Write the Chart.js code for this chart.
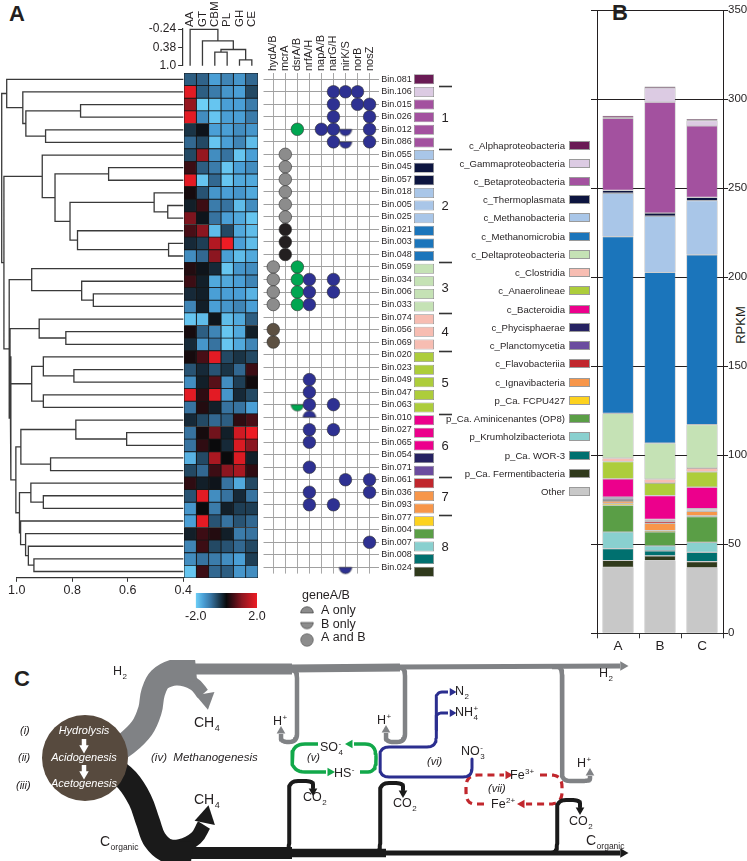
<!DOCTYPE html>
<html>
<head>
<meta charset="utf-8">
<title>Bins, genes and RPKM</title>
<script src="https://cdn.jsdelivr.net/npm/chart.js@4.4.1/dist/chart.umd.min.js"></script>
<style>
  html, body { margin: 0; padding: 0; background: #fff; }
  body { position: relative; width: 747px; height: 861px; overflow: hidden;
         font-family: 'Liberation Sans', Arial, Helvetica, sans-serif; color: #231f20; }
  canvas { position: absolute; }
  .tag { position: absolute; font-weight: bold; font-size: 22px; line-height: 22px; }
  .li { position: absolute; right: 157px; height: 12px; display: flex; align-items: center;
        font-size: 9.6px; white-space: nowrap; }
  .li i { display: block; width: 21px; height: 9px; margin-left: 4px; border: 1px solid #9a9a9a; box-sizing: border-box; }
  #rpkm { position: absolute; left: 740px; top: 325px; font-size: 13px;
          transform: translate(-50%, -50%) rotate(-90deg); }
</style>
</head>
<body>
<div class="tag" style="left:9px;top:3px">A</div>
<div class="tag" style="left:612px;top:2px">B</div>
<div class="tag" style="left:14px;top:668px">C</div>
<div id="rpkm">RPKM</div>
<script>
// ---------- data ----------
const binNames = ['Bin.081','Bin.106','Bin.015','Bin.026','Bin.012','Bin.086','Bin.055','Bin.045','Bin.057','Bin.018',
                  'Bin.005','Bin.025','Bin.021','Bin.003','Bin.048','Bin.059','Bin.034','Bin.006','Bin.033','Bin.074',
                  'Bin.056','Bin.069','Bin.020','Bin.023','Bin.049','Bin.047','Bin.063','Bin.010','Bin.027','Bin.065',
                  'Bin.054','Bin.071','Bin.061','Bin.036','Bin.093','Bin.077','Bin.004','Bin.007','Bin.008','Bin.024'];
// index into classNames for every bin
const binClass = [0,1,2,2,2,2,4,3,3,4,4,4,5,5,5,6,6,6,6,7,7,7,8,8,8,8,8,9,9,9,10,11,12,13,13,14,15,16,17,18];

const heatCols = ['AA','GT','CBM','PL','GH','CE'];
const heatAA  = [-0.8,1.9,1.1,1.9,-0.4,-0.9,-0.6,0.4,1.9,0.1,-0.2,0.9,0.5,-0.3,-1.3,0.2,0.4,-0.3,-1.2,-1.9,0.1,-0.3,0.1,-0.7,-1.3,1.9,-1.0,-0.3,-1.0,-1.0,-1.7,-0.6,0.3,-0.7,-1.4,-1.5,-0.2,-1.2,-1.3,-1.9];
const heatGT  = [-0.85,-0.8,-2.0,-1.3,-0.1,-0.6,1.1,-0.8,-1.9,-0.7,0.4,-0.1,1.0,-0.5,-0.9,-0.1,-0.2,-0.2,-0.2,-1.8,-0.8,-1.4,0.5,-0.3,-0.2,0.3,0.2,-0.6,0.1,0.3,-0.6,-0.9,-0.2,1.9,0.0,1.9,0.4,0.4,-1.0,0.4];
const heatCBM = [-1.5,-1.1,-1.9,-1.9,-1.5,-1.9,-1.3,-1.1,-0.9,-1.4,-1.1,-1.0,-1.8,1.4,1.0,-0.3,-1.6,-1.5,-1.5,-0.1,-1.2,-1.0,1.9,-0.7,0.6,1.9,-0.2,-0.9,0.8,0.0,1.3,0.4,-0.1,-1.3,-1.1,-0.7,0.2,-0.6,-1.1,-0.9];
const heatPL  = [-1.2,-1.4,-1.5,-1.5,-1.5,-1.5,-1.0,-1.9,-1.9,-1.5,-1.0,-1.5,-0.6,2.0,-1.5,-1.9,-1.6,-1.5,-1.4,-1.8,-1.9,-1.9,-0.6,-0.4,-1.3,-1.4,-1.0,-0.8,-0.2,-0.3,0.0,1.0,-1.0,-1.0,-0.2,-1.0,-0.2,-0.7,-1.3,-0.8];
const heatGH  = [-1.4,-1.5,-1.5,-1.5,-1.3,-1.2,-1.9,-1.5,-1.6,-1.4,-1.8,-1.6,-1.6,-1.5,-1.8,-1.4,-1.5,-1.5,-1.2,-1.6,-1.6,-1.6,-0.4,-0.9,-0.5,-0.3,-1.0,0.3,1.7,1.8,1.8,1.3,-1.6,-0.3,-0.5,-0.7,-1.1,-0.9,-1.5,-1.4];
const heatCE  = [-0.9,-0.6,-1.1,-1.1,-1.4,-1.8,-1.5,-1.3,-1.6,-1.6,-1.3,-1.9,-1.8,-1.8,-1.6,-1.3,-1.2,-1.7,-1.5,-0.8,-0.2,-1.2,-0.6,0.4,0.05,-0.6,-1.5,0.5,2.0,1.0,-0.2,0.3,-0.6,-1.0,-0.5,-0.9,-1.0,-0.6,-0.5,-1.3];
const heatRange = [-2, 2];

// dendrograms: [left, right, height], leaves are row / column indices
const rowTree = [
  [0, [1, [[2, 3, 0.770], [4, 5, 0.896], 0.967], 0.978], 1.036],
  [[6, [[7, 8, 0.669], [[9, [10, 11, 0.456], 0.505], [12, [13, 14, 0.453], 0.781], 0.808], 0.862], 0.908],
   [[15, [16, [17, 18, 0.724], 0.766], 0.946],
    [[[19, [20, 21, 0.823], 0.919], [[22, [23, 24, 0.794], 0.904], [25, 26, 0.904], 0.946], 1.024],
     [[[27, [28, 29, 0.604], 0.787], [30, 31, 0.878], 0.985],
      [[32, [33, 34, 0.904], 0.949], [35, [36, [37, [38, 39, 0.938], 0.958], 0.968], 0.986], 0.99], 1.003], 1.021], 1.027], 1.046],
  1.054];
const colTree = [0, [1, [[2, 3, 0.54], [4, 5, 0.80], 0.45], 0.16], -0.23];
const colTicks = [-0.24, 0.38, 1.0];

const geneNames = ['hydA/B','mcrA','dsrA/B','nrfA/H','napA/B','narG/H','nirK/S','norB','nosZ'];
// [bin row, gene, found in (A / B / AB), marker group]
const geneHits = [
  [1,5,'AB','n'],[1,6,'AB','n'],[1,7,'AB','n'],
  [2,5,'AB','n'],[2,7,'AB','n'],[2,8,'AB','n'],
  [3,5,'AB','n'],[3,8,'AB','n'],
  [4,2,'AB','e'],[4,4,'AB','n'],[4,5,'AB','n'],[4,6,'B','n'],[4,8,'AB','n'],
  [5,5,'AB','n'],[5,6,'B','n'],[5,8,'AB','n'],
  [6,1,'AB','g'],[7,1,'AB','g'],[8,1,'AB','g'],[9,1,'AB','g'],[10,1,'AB','g'],[11,1,'AB','g'],
  [12,1,'AB','k'],[13,1,'AB','k'],[14,1,'AB','k'],
  [15,0,'AB','g'],[15,2,'AB','e'],
  [16,0,'AB','g'],[16,2,'AB','e'],[16,3,'AB','n'],[16,5,'AB','n'],
  [17,0,'AB','g'],[17,2,'AB','e'],[17,3,'AB','n'],[17,5,'AB','n'],
  [18,0,'AB','g'],[18,2,'AB','e'],[18,3,'AB','n'],
  [20,0,'AB','w'],[21,0,'AB','w'],
  [24,3,'AB','n'],[25,3,'AB','n'],
  [26,2,'B','e'],[26,3,'AB','n'],[26,5,'AB','n'],
  [27,3,'A','n'],
  [28,3,'AB','n'],[28,5,'AB','n'],
  [29,3,'AB','n'],[31,3,'AB','n'],
  [32,6,'AB','n'],[32,8,'AB','n'],
  [33,3,'AB','n'],[33,8,'AB','n'],
  [34,3,'AB','n'],[34,5,'AB','n'],
  [37,8,'AB','n'],
  [39,6,'B','n']
];
const presenceLabels = ['A only', 'B only', 'A and B'];
const presenceKeys = ['A', 'B', 'AB'];
// [first row, last row, label]
const clusters = [[1,5,'1'],[6,14,'2'],[15,18,'3'],[19,21,'4'],[22,26,'5'],[27,31,'6'],[32,34,'7'],[35,39,'8']];

const classNames = ['c_Alphaproteobacteria','c_Gammaproteobacteria','c_Betaproteobacteria','c_Thermoplasmata',
  'c_Methanobacteria','c_Methanomicrobia','c_Deltaproteobacteria','c_Clostridia','c_Anaerolineae','c_Bacteroidia',
  'c_Phycisphaerae','c_Planctomycetia','c_Flavobacteriia','c_Ignavibacteria','p_Ca. FCPU427',
  'p_Ca. Aminicenantes (OP8)','p_Krumholzibacteriota','p_Ca. WOR-3','p_Ca. Fermentibacteria','Other'];
const samples = ['A', 'B', 'C'];
const rpkmA = [1.1, 0.3, 40.5, 1.5, 24.4, 99.3, 25.2, 1.9, 9.7, 10.3, 0.9, 0.7, 0.6, 1.3, 1.0, 15.1, 9.3, 6.7, 3.8, 37.1];
const rpkmB = [0.8, 8.0, 62.3, 1.7, 31.7, 95.9, 20.2, 2.2, 7.0, 13.4, 0.5, 0.6, 1.1, 4.1, 0.8, 7.8, 2.8, 2.8, 2.6, 40.9];
const rpkmC = [0.9, 3.0, 40.1, 1.9, 30.4, 95.4, 24.4, 2.1, 8.6, 12.1, 0.4, 0.6, 0.5, 2.5, 0.5, 14.4, 5.6, 5.2, 3.5, 36.8];
const rpkmMax = 350, rpkmStep = 50;

// ---------- styles ----------
const FONT = "'Liberation Sans', Arial, Helvetica, sans-serif";
const INK = '#231f20';
const classColours = ['#6a1b55','#dccbe3','#a3519f','#0d1540','#a9c6e8','#1b75bb','#c5e2b5','#f7bdb2','#adcd3b','#ec008c',
  '#262262','#6b4c9f','#c1272d','#f7964a','#fdd21f','#5a9e46','#89d0cf','#00706f','#303a1c','#c8c8c8'];
const dotColours = { n: '#2e3192', e: '#00a651', g: '#8c8c8c', k: '#231f20', w: '#5c5042' };
const heatStops = [[-2,[109,207,246]],[-1.5,[74,159,214]],[-1,[55,115,160]],[-0.5,[30,62,85]],
                   [0,[10,10,12]],[0.5,[72,14,22]],[1,[140,22,32]],[2,[237,28,36]]];

Chart.defaults.font.family = FONT;
Chart.defaults.color = INK;

function heatColour(v) {
  v = Math.max(heatRange[0], Math.min(heatRange[1], v));
  for (let i = 1; i < heatStops.length; i++) {
    const [v0, c0] = heatStops[i - 1], [v1, c1] = heatStops[i];
    if (v <= v1) {
      const t = (v - v0) / (v1 - v0);
      return 'rgb(' + c0.map((c, j) => Math.round(c + (c1[j] - c) * t)).join(',') + ')';
    }
  }
}

function mk(left, top, w, h) {
  const c = document.createElement('canvas');
  c.width = w; c.height = h;
  c.style.left = left + 'px'; c.style.top = top + 'px';
  c.style.width = w + 'px'; c.style.height = h + 'px';
  document.body.appendChild(c);
  return c.getContext('2d');
}

function opts(o) {
  const base = {
    responsive: false, devicePixelRatio: 1, animation: false, events: [],
    plugins: { legend: { display: false }, tooltip: { enabled: false } }
  };
  Object.assign(base, o);
  base.layout = Object.assign({ autoPadding: false, padding: 0 }, o.layout || {});
  return base;
}

// walk a tree and emit bracket polylines (null point = gap)
function dendro(node, leafH, out) {
  if (typeof node === 'number') return { p: node, h: leafH };
  const a = dendro(node[0], leafH, out), b = dendro(node[1], leafH, out), h = node[2];
  out.push({ h: a.h, p: a.p }, { h: h, p: a.p }, { h: h, p: b.p }, { h: b.h, p: b.p }, { h: null, p: null });
  return { p: (a.p + b.p) / 2, h: h };
}

const halfCache = {};
function halfDot(colour, part) {
  const key = colour + part;
  if (halfCache[key]) return halfCache[key];
  const c = document.createElement('canvas');
  c.width = 16; c.height = 16;
  const g = c.getContext('2d');
  g.beginPath();
  if (part === 'A') g.arc(8, 8, 6.3, Math.PI, 2 * Math.PI);
  else g.arc(8, 8, 6.3, 0, Math.PI);
  g.closePath();
  g.fillStyle = colour; g.fill();
  g.lineWidth = 0.6; g.strokeStyle = '#333'; g.stroke();
  halfCache[key] = c;
  return c;
}

// ---------- A: row dendrogram ----------
const rowSegs = [];
dendro(rowTree, 0.4, rowSegs);
new Chart(mk(0, 0, 196, 610), {
  type: 'scatter',
  data: { datasets: [{ data: rowSegs.map(s => ({ x: s.h, y: s.p })), showLine: true, spanGaps: false,
    borderColor: '#3a3a3a', borderWidth: 1.3, pointRadius: 0, clip: false }] },
  options: opts({
    layout: { padding: { left: 16.7, right: 12.7, top: 73, bottom: 0 } },
    scales: {
      x: { type: 'linear', min: 0.4, max: 1.0, reverse: true, position: 'bottom',
           afterFit: s => { s.height = 32.2; },
           ticks: { stepSize: 0.2, callback: v => v.toFixed(1), font: { size: 12.5 }, color: INK, padding: 1, maxRotation: 0 },
           grid: { drawOnChartArea: false, drawTicks: true, tickLength: 4, color: '#333' },
           border: { color: '#333', width: 1.2 } },
      y: { type: 'linear', min: -0.5, max: 39.5, reverse: true, display: false }
    }
  })
});

// ---------- A: column dendrogram + column names ----------
const colSegs = [];
dendro(colTree, 1.0, colSegs);
new Chart(mk(128, 0, 130, 75), {
  type: 'scatter',
  data: { datasets: [{ data: colSegs.map(s => ({ x: s.p, y: s.h })), showLine: true, spanGaps: false,
    borderColor: '#3a3a3a', borderWidth: 1.3, pointRadius: 0, clip: false }] },
  options: opts({
    layout: { padding: { left: 0, right: 0, top: 0, bottom: 2 } },
    scales: {
      x: { type: 'linear', min: -0.65, max: 5.5, position: 'top',
           afterFit: s => { s.height = 29; },
           afterBuildTicks: s => { s.ticks = heatCols.map((_, i) => ({ value: i })); },
           ticks: { autoSkip: false, minRotation: 90, maxRotation: 90, padding: 2, labelOffset: 13.8, font: { size: 11.5 },
                    callback: v => heatCols[v] },
           grid: { display: false, drawTicks: false }, border: { display: false } },
      y: { type: 'linear', min: -0.24, max: 1.0, reverse: true, position: 'left',
           afterFit: s => { s.width = 54.1; },
           afterBuildTicks: s => { s.ticks = colTicks.map(v => ({ value: v })); },
           ticks: { autoSkip: false, padding: 2, font: { size: 12 }, callback: v => (v === 1 ? '1.0' : String(v)) },
           grid: { drawOnChartArea: false, drawTicks: true, tickLength: 4, color: '#333' },
           border: { color: '#333', width: 1.2 } }
    }
  })
});

// ---------- A: heatmap ----------
const heatData = [heatAA, heatGT, heatCBM, heatPL, heatGH, heatCE];
new Chart(mk(184, 73, 74, 505), {
  type: 'bar',
  data: { labels: binNames, datasets: heatData.map((col, i) => ({
    label: heatCols[i], data: col.map(() => 1), backgroundColor: col.map(heatColour),
    borderColor: '#161616', borderWidth: 0.8, borderSkipped: false, barPercentage: 1, categoryPercentage: 1 })) },
  options: opts({
    indexAxis: 'y',
    scales: { x: { stacked: true, min: 0, max: heatCols.length, display: false },
              y: { stacked: true, display: false } }
  })
});

// ---------- A: gene presence matrix ----------
new Chart(mk(258, 0, 160, 581), {
  type: 'scatter',
  data: { datasets: [{
    data: geneHits.map(h => ({ x: h[1], y: h[0] })),
    pointStyle: geneHits.map(h => h[2] === 'AB' ? 'circle' : halfDot(dotColours[h[3]], h[2])),
    pointRadius: 6.3,
    pointBackgroundColor: geneHits.map(h => dotColours[h[3]]),
    pointBorderColor: '#333', pointBorderWidth: 0.6, clip: false }] },
  options: opts({
    layout: { padding: { left: 0.9, right: 0, top: 0, bottom: 3 } },
    scales: {
      x: { type: 'linear', min: -0.81, max: 8.81, position: 'top',
           afterFit: s => { s.height = 73; },
           afterBuildTicks: s => { s.ticks = geneNames.map((_, i) => ({ value: i })); },
           ticks: { autoSkip: false, minRotation: 90, maxRotation: 90, padding: 2, labelOffset: 13.2, font: { size: 11 },
                    callback: v => geneNames[v] },
           grid: { color: '#a8a8a8', lineWidth: 1, drawTicks: false }, border: { display: false } },
      y: { type: 'linear', min: -0.5, max: 39.5, reverse: true, position: 'right',
           afterFit: s => { s.width = 38.7; },
           afterBuildTicks: s => { s.ticks = binNames.map((_, i) => ({ value: i })); },
           ticks: { autoSkip: false, padding: 2, font: { size: 9 }, callback: v => binNames[v] },
           grid: { color: '#a0a0a0', lineWidth: 1, drawTicks: false }, border: { display: false } }
    }
  })
});

// ---------- A: class squares + cluster numbers ----------
const clusterMarks = {
  id: 'clusterMarks',
  afterDraw(chart) {
    const { ctx } = chart, y = chart.scales.y;
    ctx.save();
    ctx.strokeStyle = '#333'; ctx.lineWidth = 1.6;
    ctx.fillStyle = INK; ctx.font = '13px ' + FONT;
    ctx.textAlign = 'center'; ctx.textBaseline = 'middle';
    clusters.forEach(([a, b, lab]) => {
      const yy = Math.round(y.getPixelForValue(a - 0.5)) + 0.5;
      ctx.beginPath(); ctx.moveTo(27, yy); ctx.lineTo(40, yy); ctx.stroke();
      ctx.fillText(lab, 33, (y.getPixelForValue(a) + y.getPixelForValue(b)) / 2 + 1);
    });
    ctx.restore();
  }
};
new Chart(mk(412, 73, 48, 505), {
  type: 'bar',
  data: { labels: binNames, datasets: [{ data: binNames.map(() => 1), backgroundColor: binClass.map(c => classColours[c]),
    borderColor: '#8d8d8d', borderWidth: 0.8, borderSkipped: false, barPercentage: 0.8, categoryPercentage: 1 }] },
  options: opts({
    indexAxis: 'y',
    layout: { padding: { left: 2, right: 26 } },
    scales: { x: { min: 0, max: 1, display: false }, y: { display: false } }
  }),
  plugins: [clusterMarks]
});

// ---------- A: colour bar ----------
new Chart(mk(184, 590, 84, 40), {
  type: 'bar',
  data: { labels: [''], datasets: [{ data: [heatRange], borderWidth: 0, barPercentage: 1, categoryPercentage: 1,
    backgroundColor: c => {
      const a = c.chart.chartArea;
      if (!a) return '#000';
      const g = c.chart.ctx.createLinearGradient(a.left, 0, a.right, 0);
      for (let i = 0; i <= 40; i++) g.addColorStop(i / 40, heatColour(heatRange[0] + i * (heatRange[1] - heatRange[0]) / 40));
      return g;
    } }] },
  options: opts({
    indexAxis: 'y',
    layout: { padding: { left: 4, right: 11, top: 3 } },
    scales: {
      x: { min: heatRange[0], max: heatRange[1], afterFit: s => { s.height = 22; },
           afterBuildTicks: s => { s.ticks = heatRange.map(v => ({ value: v })); },
           ticks: { autoSkip: false, maxRotation: 0, padding: 1, font: { size: 12.5 }, callback: v => v.toFixed(1) },
           grid: { display: false, drawTicks: false }, border: { display: false } },
      y: { display: false }
    }
  })
});

// ---------- A: presence key ----------
const presenceKey = {
  id: 'presenceKey',
  afterDraw(chart) {
    const { ctx } = chart, y = chart.scales.y;
    ctx.save();
    ctx.fillStyle = INK; ctx.font = '12.5px ' + FONT; ctx.textBaseline = 'middle'; ctx.textAlign = 'left';
    ctx.fillText('geneA/B', 12, 11);
    presenceLabels.forEach((t, i) => ctx.fillText(t, 31, y.getPixelForValue(i) - 2));
    ctx.restore();
  }
};
new Chart(mk(290, 585, 110, 70), {
  type: 'scatter',
  data: { datasets: [{ data: presenceKeys.map((k, i) => ({ x: 0, y: i - (k === 'B' ? 0.3 : 0) })),
    pointStyle: presenceKeys.map(k => k === 'AB' ? 'circle' : halfDot('#8c8c8c', k)),
    pointRadius: 6.3, pointBackgroundColor: '#8c8c8c', pointBorderColor: '#555', pointBorderWidth: 0.6, clip: false }] },
  options: opts({
    layout: { padding: { left: 0, right: 76, top: 28, bottom: 15 } },
    scales: { x: { min: -1, max: 1, display: false }, y: { min: 0, max: 2, reverse: true, display: false } }
  }),
  plugins: [presenceKey]
});

// ---------- B: stacked RPKM bars ----------
const rpkmBySample = [rpkmA, rpkmB, rpkmC];
const stackSets = classNames.map((name, k) => ({
  label: name,
  data: rpkmBySample.map(s => s[k]),
  backgroundColor: classColours[k],
  borderColor: 'rgba(120,120,120,0.8)', borderWidth: 0.6, borderSkipped: false,
  barPercentage: 0.74, categoryPercentage: 1
})).reverse();   // 'Other' sits at the bottom of each stack
new Chart(mk(560, 0, 187, 660), {
  type: 'bar',
  data: { labels: samples, datasets: stackSets },
  options: opts({
    layout: { padding: { top: 10.3, left: 0, right: 0, bottom: 0 } },
    scales: {
      x: { stacked: true, position: 'bottom', afterFit: s => { s.height = 26.7; },
           ticks: { font: { size: 13.5 }, padding: 0, color: INK },
           grid: { offset: true, drawOnChartArea: false, drawTicks: true, tickLength: 5, color: '#333' },
           border: { color: '#333' } },
      y: { stacked: true, position: 'right', min: 0, max: rpkmMax, afterFit: s => { s.width = 24; },
           ticks: { stepSize: rpkmStep, font: { size: 11.5 }, padding: 0, color: INK },
           grid: { color: '#231f20', lineWidth: 1, drawTicks: true, tickLength: 5 },
           border: { color: '#231f20' } },
      yl: { position: 'left', min: 0, max: rpkmMax, afterFit: s => { s.width = 37; },
            ticks: { stepSize: rpkmStep, callback: () => '' },
            grid: { drawOnChartArea: false, drawTicks: true, tickLength: 6, color: '#231f20' },
            border: { color: '#231f20' } }
    }
  })
});

// legend of panel B
classNames.forEach((name, k) => {
  const row = document.createElement('div');
  row.className = 'li';
  row.style.top = (139 + 18.24 * k) + 'px';
  const t = document.createElement('span'); t.textContent = name;
  const box = document.createElement('i'); box.style.background = classColours[k];
  row.appendChild(t); row.appendChild(box);
  document.body.appendChild(row);
});

// ---------- C: process scheme ----------
const GREY = '#808285', BLACK = '#1a1a1a', GREEN = '#12a84a', BLUE = '#2b2e8f', RED = '#c1272d';
function roundPath(c, r) {
  const out = [c[0]];
  for (let i = 1; i < c.length - 1; i++) {
    const a = c[i - 1], p = c[i], b = c[i + 1];
    const d1 = Math.hypot(p[0] - a[0], p[1] - a[1]), d2 = Math.hypot(b[0] - p[0], b[1] - p[1]);
    const r1 = Math.min(r, d1 / 2), r2 = Math.min(r, d2 / 2);
    const s = [p[0] - (p[0] - a[0]) / d1 * r1, p[1] - (p[1] - a[1]) / d1 * r1];
    const e = [p[0] + (b[0] - p[0]) / d2 * r2, p[1] + (b[1] - p[1]) / d2 * r2];
    for (let k = 0; k <= 8; k++) {
      const t = k / 8, u = 1 - t;
      out.push([u * u * s[0] + 2 * u * t * p[0] + t * t * e[0], u * u * s[1] + 2 * u * t * p[1] + t * t * e[1]]);
    }
  }
  out.push(c[c.length - 1]);
  return out.map(([x, y]) => ({ x, y }));
}
const lines = [], heads = [];
function path(corners, r, colour, width, dash) {
  lines.push({ data: roundPath(corners, r), showLine: true, borderColor: colour, borderWidth: width,
    borderDash: dash || [], pointRadius: 0, tension: 0, clip: false, borderJoinStyle: 'round' });
}
function curve(pts, colour, width) {
  lines.push({ data: pts.map(([x, y]) => ({ x, y })), showLine: true, borderColor: colour, borderWidth: width,
    pointRadius: 0, tension: 0.4, clip: false });
}
function head(x, y, r, rot, c) { heads.push({ x, y, r, rot, c }); }

// hydrogen (grey)
curve([[110,754],[126,744],[142,728],[150,710],[153,693],[160,679],[175,671],[196,669]], GREY, 24);
curve([[185,669],[292,669]], GREY, 11);
curve([[290,668.5],[400,667.5]], GREY, 8);
curve([[398,667],[620,666]], GREY, 5);
head(623, 666, 5.5, 90, GREY);
curve([[156,686],[176,679],[194,684],[203,694]], GREY, 13);
head(206, 699, 11, 170, GREY);
path([[285,670],[297,670],[297,742],[281,742],[281,734]], 8, GREY, 4.5);
head(281, 731, 5, 0, GREY);
path([[396,668],[405,668],[405,742],[386,742],[386,733]], 8, GREY, 4.5);
head(386, 730, 5, 0, GREY);
path([[552,667],[562,667],[562,781],[590,781],[590,776]], 8, GREY, 4.5);
head(590, 773, 5, 0, GREY);
// organic carbon (black)
curve([[110,766],[127,780],[140,800],[148,822],[155,840],[168,851],[192,854]], BLACK, 24);
curve([[185,853],[292,853]], BLACK, 12);
curve([[288,853],[386,853]], BLACK, 8.5);
curve([[383,853],[620,853]], BLACK, 5);
head(623, 853, 5.5, 90, BLACK);
curve([[160,846],[180,846],[196,838],[204,825]], BLACK, 14);
head(206, 817, 12, 12, BLACK);
path([[275,853],[289,853],[289,781],[313,781],[313,788]], 9, BLACK, 4);
head(313, 791, 5, 180, BLACK);
path([[368,853],[380,853],[380,783],[403,783],[403,790]], 9, BLACK, 4);
head(403, 793, 5, 180, BLACK);
path([[545,853],[557,853],[557,800],[580,800],[580,807]], 9, BLACK, 4);
head(580, 810, 5, 180, BLACK);
// sulfur cycle (green)
path([[318,744],[292,744],[292,772],[326,772]], 13, GREEN, 3.5);
head(330, 772, 5, 90, GREEN);
path([[360,772],[376,772],[376,744],[354,744]], 13, GREEN, 3.5);
head(350, 744, 5, 270, GREEN);
// nitrogen (blue)
path([[472,759],[472,777],[380,777],[380,747],[436,747],[436,692],[448,692]], 9, BLUE, 3);
head(452, 692, 4.5, 90, BLUE);
path([[436,730],[436,713],[448,713]], 6, BLUE, 3);
head(452, 713, 4.5, 90, BLUE);
// iron (red, dashed)
path([[540,775],[562,775],[562,804],[526,804]], 12, RED, 3.2, [7, 5]);
head(522, 804, 5, 270, RED);
path([[484,804],[466,804],[466,775],[504,775]], 12, RED, 3.2, [7, 5]);
head(508, 775, 5, 90, RED);
// arrows inside the digestion disc
head(84, 748, 5.5, 180, '#ffffff');
head(84, 774, 5.5, 180, '#ffffff');
const stems = [[[84,739],[84,746]], [[84,765],[84,772]]].map(p => ({
  data: p.map(([x, y]) => ({ x, y })), showLine: true, borderColor: '#ffffff', borderWidth: 4.5, pointRadius: 0, clip: false }));

const schemeText = [
  { t: 'H', sub: '2', x: 113, y: 672 },
  { t: 'CH', sub: '4', x: 194, y: 723, size: 14 },
  { t: 'CH', sub: '4', x: 194, y: 800, size: 14 },
  { t: 'H', sup: '+', x: 273, y: 722 },
  { t: 'H', sup: '+', x: 377, y: 721 },
  { t: 'H', sup: '+', x: 577, y: 764 },
  { t: 'SO', sub: '4', sup: '-', x: 320, y: 748 },
  { t: 'HS', sup: '-', x: 334, y: 774 },
  { t: 'CO', sub: '2', x: 303, y: 798 },
  { t: 'CO', sub: '2', x: 393, y: 804 },
  { t: 'CO', sub: '2', x: 569, y: 822 },
  { t: 'N', sub: '2', x: 455, y: 692 },
  { t: 'NH', sub: '4', sup: '+', x: 455, y: 713 },
  { t: 'NO', sub: '3', sup: '-', x: 461, y: 752 },
  { t: 'Fe', sup: '3+', x: 510, y: 776 },
  { t: 'Fe', sup: '2+', x: 491, y: 805 },
  { t: 'C', sub: 'organic', x: 100, y: 842, size: 14, small: 8.5 },
  { t: 'C', sub: 'organic', x: 586, y: 841, size: 14, small: 8.5 },
  { t: 'H', sub: '2', x: 599, y: 674 },
  { t: '(v)', x: 307, y: 758, size: 11, italic: true },
  { t: '(vi)', x: 427, y: 762, size: 11, italic: true },
  { t: '(vii)', x: 488, y: 789, size: 11, italic: true },
  { t: '(iv)  Methanogenesis', x: 151, y: 758, size: 11.5, italic: true },
  { t: '(i)', x: 20, y: 731, size: 11, italic: true },
  { t: '(ii)', x: 18, y: 758, size: 11, italic: true },
  { t: '(iii)', x: 16, y: 786, size: 11, italic: true },
  { t: 'Hydrolysis', x: 84, y: 731, size: 11, italic: true, colour: '#ffffff', align: 'center' },
  { t: 'Acidogenesis', x: 84, y: 758, size: 11, italic: true, colour: '#ffffff', align: 'center' },
  { t: 'Acetogenesis', x: 84, y: 784, size: 11, italic: true, colour: '#ffffff', align: 'center' }
];
const schemeLabels = {
  id: 'schemeLabels',
  afterDatasetsDraw(chart) {
    const { ctx } = chart, sx = chart.scales.x, sy = chart.scales.y;
    ctx.save();
    ctx.textBaseline = 'middle'; ctx.textAlign = 'left';
    schemeText.forEach(l => {
      const size = l.size || 12.5;
      let x = sx.getPixelForValue(l.x);
      const y = sy.getPixelForValue(l.y);
      ctx.font = (l.italic ? 'italic ' : '') + size + 'px ' + FONT;
      ctx.fillStyle = l.colour || INK;
      const w = ctx.measureText(l.t).width;
      if (l.align === 'center') x -= w / 2;
      ctx.fillText(l.t, x, y);
      x += w + 0.5;
      ctx.font = (l.small || Math.round(size * 0.62)) + 'px ' + FONT;
      if (l.sub) ctx.fillText(l.sub, x, y + size * 0.38);
      if (l.sup) ctx.fillText(l.sup, x, y - size * 0.36);
    });
    ctx.restore();
  }
};
new Chart(mk(0, 660, 747, 201), {
  type: 'scatter',
  data: { datasets: [
    { data: heads.map(h => ({ x: h.x, y: h.y })), pointStyle: 'triangle', pointRadius: heads.map(h => h.r),
      pointRotation: heads.map(h => h.rot), pointBackgroundColor: heads.map(h => h.c), pointBorderWidth: 0, clip: false },
    ...stems,
    { data: [{ x: 85, y: 758 }], pointStyle: 'circle', pointRadius: 43, pointBackgroundColor: '#574a3e',
      pointBorderWidth: 0, clip: false },
    ...lines
  ] },
  options: opts({
    scales: { x: { type: 'linear', min: 0, max: 747, display: false },
              y: { type: 'linear', min: 660, max: 861, reverse: true, display: false } }
  }),
  plugins: [schemeLabels]
});
</script>
</body>
</html>
